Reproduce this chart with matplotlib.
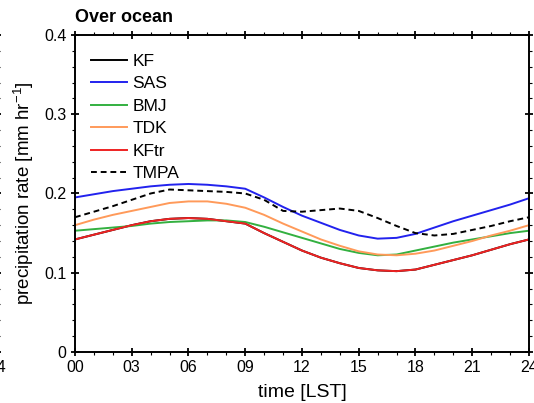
import numpy as np
import matplotlib
matplotlib.use("Agg")
import matplotlib.pyplot as plt
from matplotlib.ticker import MultipleLocator

# hourly diurnal cycle over ocean (LST)
hours = list(range(0, 25))
kf = [0.142, 0.148, 0.154, 0.160, 0.165, 0.168, 0.169, 0.168, 0.165, 0.162, 0.150, 0.139, 0.128,
      0.119, 0.112, 0.106, 0.103, 0.102, 0.104, 0.110, 0.116, 0.122, 0.129, 0.136, 0.142]
sas = [0.195, 0.199, 0.203, 0.206, 0.209, 0.211, 0.212, 0.211, 0.209, 0.206, 0.195, 0.183, 0.172,
       0.163, 0.154, 0.147, 0.143, 0.144, 0.149, 0.157, 0.165, 0.172, 0.179, 0.186, 0.194]
bmj = [0.153, 0.155, 0.157, 0.159, 0.162, 0.164, 0.165, 0.166, 0.166, 0.164, 0.158, 0.151, 0.144,
       0.137, 0.130, 0.125, 0.122, 0.123, 0.128, 0.133, 0.138, 0.142, 0.146, 0.150, 0.153]
tdk = [0.160, 0.167, 0.173, 0.178, 0.183, 0.188, 0.190, 0.190, 0.187, 0.182, 0.173, 0.162, 0.152,
       0.142, 0.134, 0.127, 0.123, 0.122, 0.124, 0.128, 0.134, 0.140, 0.147, 0.153, 0.160]
kftr = [0.142, 0.148, 0.154, 0.160, 0.165, 0.168, 0.169, 0.168, 0.165, 0.162, 0.150, 0.139, 0.128,
        0.119, 0.112, 0.106, 0.103, 0.102, 0.104, 0.110, 0.116, 0.122, 0.129, 0.136, 0.142]
tmpa = [0.170, 0.177, 0.184, 0.192, 0.200, 0.205, 0.204, 0.203, 0.202, 0.200, 0.192, 0.178, 0.177,
        0.179, 0.181, 0.178, 0.169, 0.159, 0.150, 0.147, 0.149, 0.154, 0.159, 0.165, 0.170]
xticks = [0, 3, 6, 9, 12, 15, 18, 21, 24]
xticklabels = ["00", "03", "06", "09", "12", "15", "18", "21", "24"]
yticks = [0, 0.1, 0.2, 0.3, 0.4]
yticklabels = ["0", "0.1", "0.2", "0.3", "0.4"]

plt.rcParams["font.family"] = ["Liberation Sans", "DejaVu Sans"]

fig = plt.figure(figsize=(5.34, 4.03), dpi=100)


def style_axis(a):
    a.set_xlim(0, 24)
    a.set_ylim(0, 0.4)
    a.set_xticks(xticks)
    a.xaxis.set_minor_locator(MultipleLocator(1))
    a.set_yticks(yticks)
    a.yaxis.set_minor_locator(MultipleLocator(0.02))
    a.tick_params(which="major", direction="inout", length=6, width=1.3, labelsize=11.5, pad=3,
                  top=True, right=True)
    a.tick_params(which="minor", direction="out", length=2.5, width=0.8, top=True, right=True)
    for s in a.spines.values():
        s.set_linewidth(1.4)


# piece of the neighbouring panel cut off at the left edge (only its "24" peeks in)
ax0 = fig.add_axes([-0.86, 0.1266, 0.855, 0.7866])
style_axis(ax0)
ax0.set_xticklabels([""] * 8 + ["24"])
ax0.tick_params(labelleft=False)
for s in ax0.spines.values():
    s.set_visible(False)

ax = fig.add_axes([0.1404, 0.1266, 0.8502, 0.7866])
style_axis(ax)
ax.set_xticklabels(xticklabels)
ax.set_yticklabels(yticklabels)

ax.plot(hours, kf, color="black", lw=1.4, label="KF")
ax.plot(hours, sas, color="#2222ee", lw=1.4, label="SAS")
ax.plot(hours, bmj, color="#33b040", lw=1.4, label="BMJ")
ax.plot(hours, tdk, color="#ff9a5a", lw=1.4, label="TDK")
ax.plot(hours, kftr, color="#ee2222", lw=1.4, label="KFtr")
ax.plot(hours, tmpa, color="black", lw=1.4, ls=(0, (3, 2)), label="TMPA")

ax.legend(loc="upper left", bbox_to_anchor=(0.0, 0.99), frameon=False, fontsize=12.5,
          handlelength=2.1, handletextpad=0.3, labelspacing=0.42)

ax.set_title("Over ocean", loc="left", fontsize=13, fontweight="bold", pad=9)
ax.set_xlabel("time [LST]", fontsize=14, labelpad=6)
ax.set_ylabel("precipitation rate [mm hr$^{\\mathregular{-1}}$]", fontsize=13.5, labelpad=6)

fig.savefig("out.png", dpi=100)
